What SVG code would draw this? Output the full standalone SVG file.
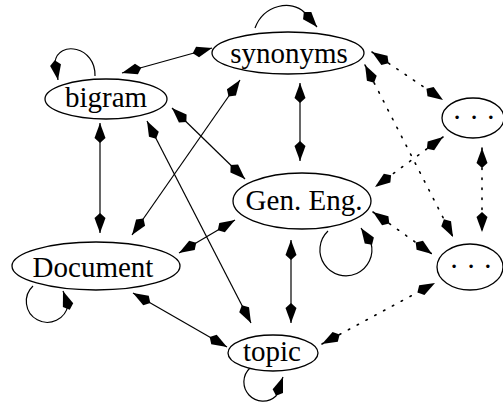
<svg xmlns="http://www.w3.org/2000/svg" width="503" height="402" viewBox="0 0 503 402">
  <style>
    .node ellipse { fill: #fff; stroke: #000; stroke-width: 1.3; }
    .node text { font-family: "Liberation Serif", "Times New Roman", serif; font-size: 29px; text-anchor: middle; fill: #000; }
    .edge { fill: none; stroke: #000; stroke-width: 1.2; marker-start: url(#kite); marker-end: url(#kite); }
    .loop { fill: none; stroke: #000; stroke-width: 1.2; marker-end: url(#kite); }
    .dotted { stroke-dasharray: 1.5 8.5; stroke-linecap: round; stroke-width: 1.6; }
  </style>
  <defs>
    <marker id="kite" markerUnits="userSpaceOnUse" markerWidth="24" markerHeight="14" viewBox="-21 -7 24 14" refX="0" refY="0" orient="auto-start-reverse" overflow="visible">
      <path d="M0,0 L-15,-5.5 L-20,0 L-15,5.5 Z" fill="#000"/>
    </marker>
  </defs>

  <!-- connectors -->
  <g id="edges">
    <line class="edge" x1="122" y1="73" x2="212" y2="48"/>
    <line class="edge" x1="100" y1="123" x2="100" y2="233"/>
    <line class="edge" x1="147" y1="121" x2="251" y2="323"/>
    <line class="edge" x1="172" y1="108" x2="245" y2="179"/>
    <line class="edge" x1="240" y1="80" x2="132" y2="235"/>
    <line class="edge" x1="300" y1="83" x2="300" y2="161"/>
    <line class="edge dotted" x1="372" y1="52" x2="443" y2="100"/>
    <line class="edge dotted" x1="365" y1="65" x2="453" y2="237"/>
    <line class="edge dotted" x1="443" y1="137" x2="375" y2="187"/>
    <line class="edge dotted" x1="482" y1="148" x2="482" y2="232"/>
    <line class="edge dotted" x1="373" y1="212" x2="432" y2="254"/>
    <line class="edge" x1="235" y1="220" x2="179" y2="253"/>
    <line class="edge" x1="291" y1="240" x2="291" y2="323"/>
    <line class="edge" x1="133" y1="293" x2="227" y2="347"/>
    <line class="edge dotted" x1="322" y1="344" x2="435" y2="283"/>
    <!-- self loops -->
    <path class="loop" d="M95,76 C96,46 58,40 55,62 L58,80"/>
    <path class="loop" d="M255,28 C264,4 292,0 304,12 L317,27"/>
    <path class="loop" d="M328,231 A26,26 0 1 0 371,243 L361,228"/>
    <path class="loop" d="M33,286 A21,21 0 1 0 68,305 L63,291"/>
    <path class="loop" d="M250,368 A19,19 0 1 0 276,396 L283,377"/>
  </g>

  <!-- nodes -->
  <g id="synonyms" class="node">
    <ellipse cx="288" cy="53" rx="76" ry="21"/>
    <text x="289" y="63">synonyms</text>
  </g>
  <g id="bigram" class="node">
    <ellipse cx="106" cy="99" rx="61" ry="20"/>
    <text x="106" y="107">bigram</text>
  </g>
  <g id="gen-eng" class="node">
    <ellipse cx="302" cy="201" rx="69" ry="28"/>
    <text x="304" y="210">Gen. Eng.</text>
  </g>
  <g id="document" class="node">
    <ellipse cx="96" cy="266" rx="84" ry="24"/>
    <text x="93" y="277">Document</text>
  </g>
  <g id="topic" class="node">
    <ellipse cx="273" cy="353" rx="45" ry="18"/>
    <text x="272" y="361">topic</text>
  </g>
  <g id="dots-upper" class="node">
    <ellipse cx="473" cy="118" rx="31" ry="20"/>
    <text x="474" y="127">· · ·</text>
  </g>
  <g id="dots-lower" class="node">
    <ellipse cx="470" cy="267" rx="33" ry="23"/>
    <text x="471" y="276">· · ·</text>
  </g>
</svg>
